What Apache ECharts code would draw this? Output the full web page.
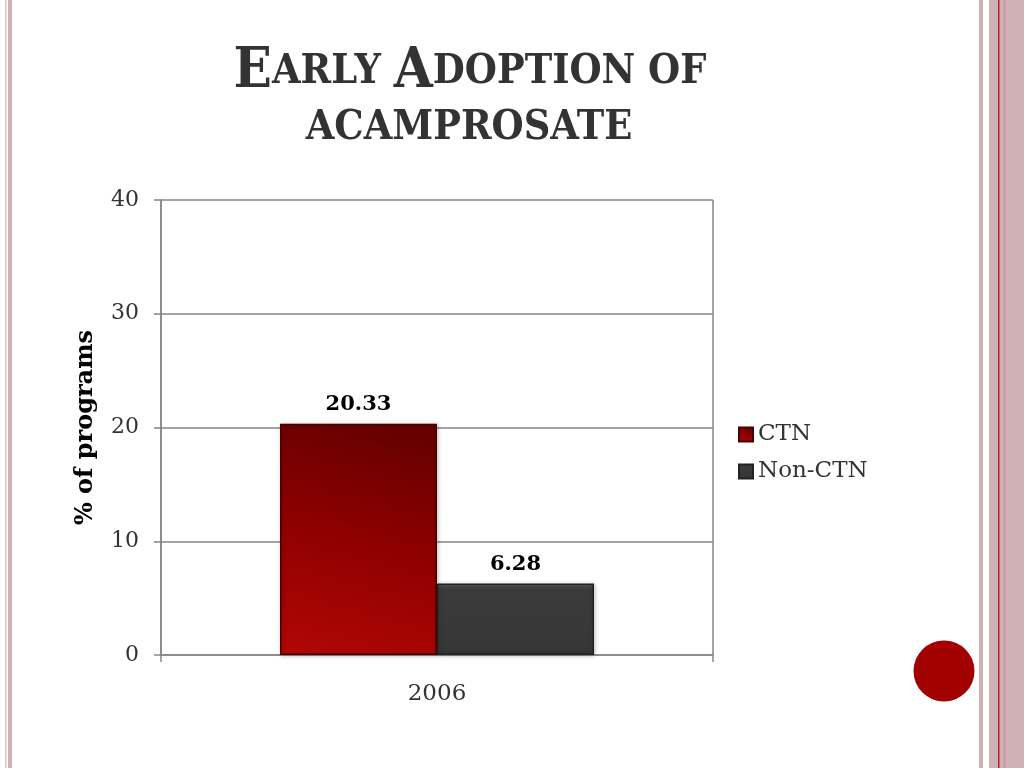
<!DOCTYPE html>
<html>
<head>
<meta charset="utf-8">
<script src="https://cdn.jsdelivr.net/npm/echarts@6/dist/echarts.min.js"></script>
<style>html,body{margin:0;padding:0;background:#fff}#c{width:1024px;height:768px}</style>
</head>
<body>
<div id="c"></div>
<script>
var categories = ['2006'];
var seriesNames = ['CTN', 'Non-CTN'];
var ctnValues = [20.33];
var nonCtnValues = [6.28];
var yTicks = [0, 10, 20, 30, 40];

var serif = '"DejaVu Serif", "Liberation Serif", serif';
var titleFont = '"DejaVu Serif Condensed", "DejaVu Serif", serif';
var chart = echarts.init(document.getElementById('c'));
var labelStyle = { show: true, position: 'top', distance: 9, fontFamily: serif, fontSize: 21, fontWeight: 'bold', color: '#000' };
var option = {
  backgroundColor: '#ffffff',
  animation: false,
  grid: { left: 161, right: 311, top: 200, bottom: 113 },
  legend: {
    orient: 'vertical', left: 733, top: 418,
    icon: 'rect',
    itemWidth: 14, itemHeight: 14, itemGap: 14,
    textStyle: { fontFamily: serif, fontSize: 23, color: '#333' },
    data: seriesNames
  },
  xAxis: {
    type: 'category', data: categories,
    axisLine: { lineStyle: { color: '#868686', width: 1.5 } },
    axisTick: { show: true, length: 7, lineStyle: { color: '#868686', width: 1.5 } },
    splitLine: { show: true, lineStyle: { color: '#868686', width: 1.5 } },
    axisLabel: { fontFamily: serif, fontSize: 23, color: '#333', margin: 28 }
  },
  yAxis: {
    type: 'value', min: yTicks[0], max: yTicks[yTicks.length - 1], interval: 10,
    name: '% of programs', nameLocation: 'middle', nameGap: 63,
    nameTextStyle: { fontFamily: serif, fontSize: 24, fontWeight: 'bold', color: '#000' },
    axisLine: { show: true, lineStyle: { color: '#868686', width: 1.5 } },
    axisTick: { show: true, length: 7, lineStyle: { color: '#868686', width: 1.5 } },
    splitLine: { lineStyle: { color: '#868686', width: 1.5 } },
    axisLabel: { fontFamily: serif, fontSize: 22, color: '#333', margin: 22 }
  },
  series: [
    {
      name: seriesNames[0], type: 'bar', data: ctnValues, barWidth: 157, barGap: '0%',
      itemStyle: {
        color: new echarts.graphic.LinearGradient(0.2, 1, 0.6, 0, [
          { offset: 0, color: '#b00606' }, { offset: 0.5, color: '#900000' }, { offset: 1, color: '#660000' }
        ]),
        borderColor: '#4a0000', borderWidth: 1.5,
        shadowColor: 'rgba(0,0,0,0.25)', shadowBlur: 4, shadowOffsetX: 1, shadowOffsetY: 1
      },
      label: labelStyle
    },
    {
      name: seriesNames[1], type: 'bar', data: nonCtnValues, barWidth: 157,
      itemStyle: {
        color: new echarts.graphic.LinearGradient(0, 0, 0, 1, [
          { offset: 0, color: '#555555' }, { offset: 0.08, color: '#3b3b3b' }, { offset: 1, color: '#363636' }
        ]),
        borderColor: '#222', borderWidth: 1.5,
        shadowColor: 'rgba(0,0,0,0.25)', shadowBlur: 4, shadowOffsetX: 1, shadowOffsetY: 1
      },
      label: labelStyle
    }
  ],
  graphic: [
    { type: 'rect', shape: { x: 5, y: 0, width: 1.5, height: 768 }, style: { fill: '#dcc4c4' } },
    { type: 'rect', shape: { x: 8, y: 0, width: 4, height: 768 }, style: { fill: '#d2b0b4' } },
    { type: 'rect', shape: { x: 979, y: 0, width: 4, height: 768 }, style: { fill: '#cfb1b3' } },
    { type: 'rect', shape: { x: 989, y: 0, width: 35, height: 768 }, style: { fill: '#d0b1b4' } },
    { type: 'rect', shape: { x: 1003, y: 0, width: 3, height: 768 }, style: { fill: '#c8a2a8' } },
    { type: 'rect', shape: { x: 998, y: 0, width: 1.5, height: 768 }, style: { fill: '#b8222e' } },
    { type: 'circle', shape: { cx: 944, cy: 671, r: 30.5 }, style: { fill: '#a30000' } },
    {
      type: 'text', x: 470, y: 100,
      style: {
        text: '{b|E}{s|ARLY }{b|A}{s|DOPTION OF}',
        align: 'center', verticalAlign: 'bottom',
        rich: {
          b: { fontFamily: titleFont, fontWeight: 'bold', fontSize: 56, fill: '#333' },
          s: { fontFamily: titleFont, fontWeight: 'bold', fontSize: 41, fill: '#333' }
        }
      }
    },
    {
      type: 'text', x: 469, y: 149,
      style: {
        text: 'ACAMPROSATE', align: 'center', verticalAlign: 'bottom',
        fontFamily: titleFont, fontWeight: 'bold', fontSize: 41, fill: '#333'
      }
    }
  ]
};
chart.setOption(option);
</script>
</body>
</html>
